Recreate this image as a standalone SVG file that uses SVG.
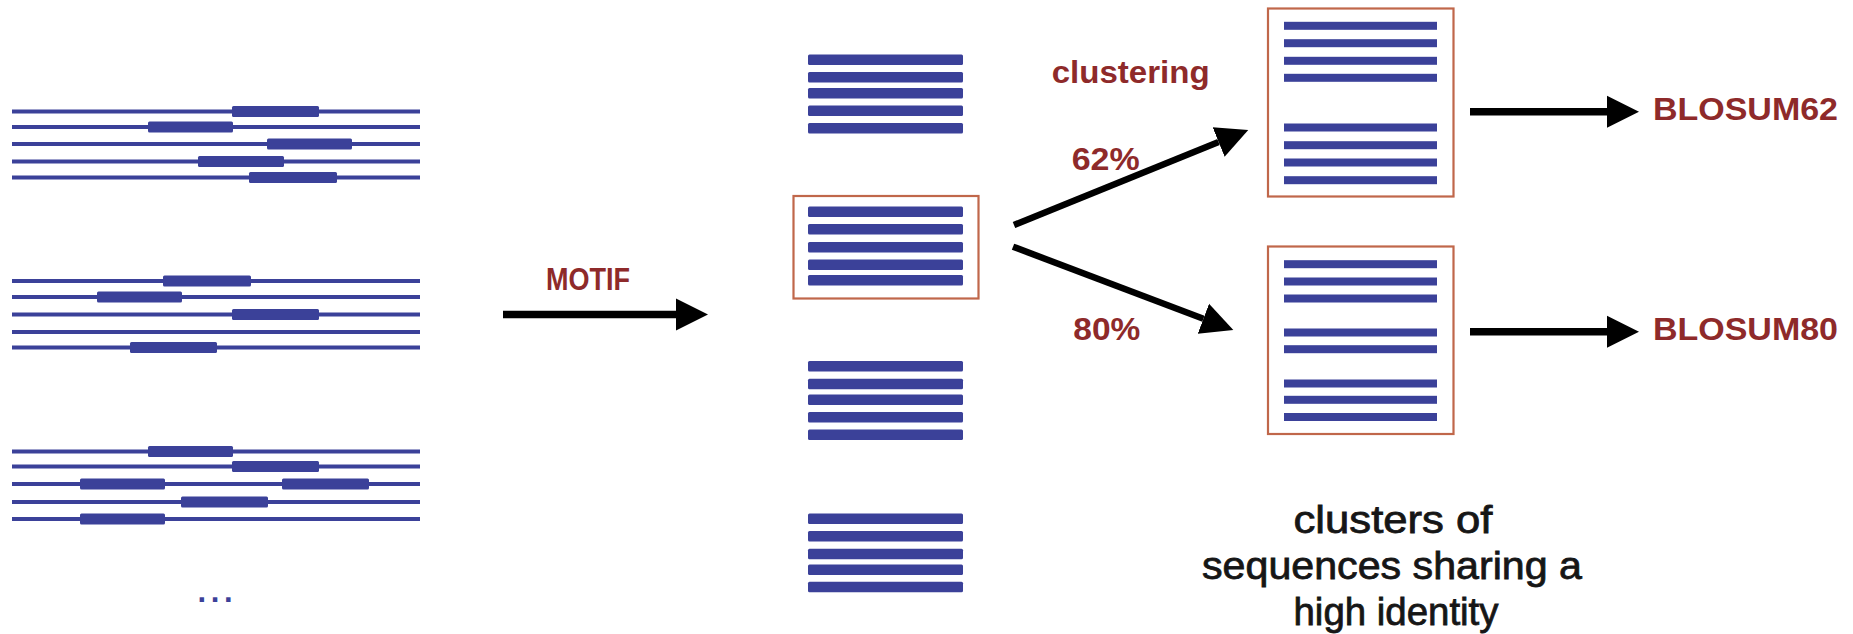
<svg xmlns="http://www.w3.org/2000/svg" width="1853" height="634" viewBox="0 0 1853 634">
  <style>
    .seq { stroke: #3b4199; stroke-width: 4; fill: none; }
    .motif { fill: #3b4199; }
    .blk { fill: #3b4199; }
    .frame { fill: none; stroke: #c0674a; stroke-width: 2.2; }
    .arrow { stroke: #000; fill: none; stroke-width: 7.5; marker-end: url(#head); }
    .diag { stroke-width: 6.5; }
    .lbl { font-family: "Liberation Sans", Arial, sans-serif; font-weight: bold; font-size: 31px; fill: #8e2a2a; }
    .cap { font-family: "Liberation Sans", Arial, sans-serif; font-size: 39px; fill: #161616; stroke: #161616; stroke-width: 0.8; text-anchor: middle; }
  </style>
  <defs>
    <marker id="head" markerUnits="userSpaceOnUse" markerWidth="34" markerHeight="34" refX="0" refY="16" orient="auto" viewBox="0 0 34 32">
      <path d="M0,0 L32,16 L0,32 z" fill="#000"/>
    </marker>
  </defs>

  <rect width="1853" height="634" fill="#fff"/>

  <!-- raw sequences with conserved motif segments -->
  <g id="sequences-1">
    <g class="seq">
      <line x1="12" y1="111.5" x2="420" y2="111.5"/>
      <line x1="12" y1="127" x2="420" y2="127"/>
      <line x1="12" y1="144" x2="420" y2="144"/>
      <line x1="12" y1="161.5" x2="420" y2="161.5"/>
      <line x1="12" y1="177.5" x2="420" y2="177.5"/>
    </g>
    <rect class="motif" x="232" y="106" width="87" height="11" rx="1.5"/>
    <rect class="motif" x="148" y="121.5" width="85" height="11" rx="1.5"/>
    <rect class="motif" x="267" y="138.5" width="85" height="11" rx="1.5"/>
    <rect class="motif" x="198" y="156" width="86" height="11" rx="1.5"/>
    <rect class="motif" x="249" y="172" width="88" height="11" rx="1.5"/>
  </g>
  <g id="sequences-2">
    <g class="seq">
      <line x1="12" y1="281" x2="420" y2="281"/>
      <line x1="12" y1="297" x2="420" y2="297"/>
      <line x1="12" y1="314.5" x2="420" y2="314.5"/>
      <line x1="12" y1="332" x2="420" y2="332"/>
      <line x1="12" y1="347.5" x2="420" y2="347.5"/>
    </g>
    <rect class="motif" x="163" y="275.5" width="88" height="11" rx="1.5"/>
    <rect class="motif" x="97" y="291.5" width="85" height="11" rx="1.5"/>
    <rect class="motif" x="232" y="309" width="87" height="11" rx="1.5"/>
    <rect class="motif" x="130" y="342" width="87" height="11" rx="1.5"/>
  </g>
  <g id="sequences-3">
    <g class="seq">
      <line x1="12" y1="451.5" x2="420" y2="451.5"/>
      <line x1="12" y1="466.5" x2="420" y2="466.5"/>
      <line x1="12" y1="484" x2="420" y2="484"/>
      <line x1="12" y1="502" x2="420" y2="502"/>
      <line x1="12" y1="519" x2="420" y2="519"/>
    </g>
    <rect class="motif" x="148" y="446" width="85" height="11" rx="1.5"/>
    <rect class="motif" x="232" y="461" width="87" height="11" rx="1.5"/>
    <rect class="motif" x="80" y="478.5" width="85" height="11" rx="1.5"/>
    <rect class="motif" x="282" y="478.5" width="87" height="11" rx="1.5"/>
    <rect class="motif" x="181" y="496.5" width="87" height="11" rx="1.5"/>
    <rect class="motif" x="80" y="513.5" width="85" height="11" rx="1.5"/>
  </g>
  <g id="ellipsis">
    <text font-family="'Liberation Sans', Arial, sans-serif" font-weight="bold" font-size="31" fill="#3b4199" x="197.5 210.8 224.1" y="602">...</text>
  </g>

  <!-- extracted motif blocks -->
  <g id="block-1">
    <rect class="blk" x="808" y="54.5" width="155" height="10.5" rx="1.5"/>
    <rect class="blk" x="808" y="72" width="155" height="10.5" rx="1.5"/>
    <rect class="blk" x="808" y="88" width="155" height="10.5" rx="1.5"/>
    <rect class="blk" x="808" y="105.5" width="155" height="10.5" rx="1.5"/>
    <rect class="blk" x="808" y="123" width="155" height="10.5" rx="1.5"/>
  </g>
  <g id="block-2">
    <rect class="frame" x="793.5" y="196" width="185" height="102.5"/>
    <rect class="blk" x="808" y="206.5" width="155" height="10.5" rx="1.5"/>
    <rect class="blk" x="808" y="224" width="155" height="10.5" rx="1.5"/>
    <rect class="blk" x="808" y="242" width="155" height="10.5" rx="1.5"/>
    <rect class="blk" x="808" y="259.5" width="155" height="10.5" rx="1.5"/>
    <rect class="blk" x="808" y="275" width="155" height="10.5" rx="1.5"/>
  </g>
  <g id="block-3">
    <rect class="blk" x="808" y="361" width="155" height="10.5" rx="1.5"/>
    <rect class="blk" x="808" y="378.7" width="155" height="10.5" rx="1.5"/>
    <rect class="blk" x="808" y="394.5" width="155" height="10.5" rx="1.5"/>
    <rect class="blk" x="808" y="412" width="155" height="10.5" rx="1.5"/>
    <rect class="blk" x="808" y="429.5" width="155" height="10.5" rx="1.5"/>
  </g>
  <g id="block-4">
    <rect class="blk" x="808" y="513.5" width="155" height="10.5" rx="1.5"/>
    <rect class="blk" x="808" y="531" width="155" height="10.5" rx="1.5"/>
    <rect class="blk" x="808" y="548.7" width="155" height="10.5" rx="1.5"/>
    <rect class="blk" x="808" y="564.5" width="155" height="10.5" rx="1.5"/>
    <rect class="blk" x="808" y="581.7" width="155" height="10.5" rx="1.5"/>
  </g>

  <!-- clusters at the two identity thresholds -->
  <g id="cluster-62">
    <rect class="frame" x="1268" y="8.5" width="185.5" height="188"/>
    <rect class="blk" x="1284" y="21.8" width="153" height="8"/>
    <rect class="blk" x="1284" y="39.2" width="153" height="8"/>
    <rect class="blk" x="1284" y="56.8" width="153" height="8"/>
    <rect class="blk" x="1284" y="73.8" width="153" height="8"/>
    <rect class="blk" x="1284" y="123.5" width="153" height="8"/>
    <rect class="blk" x="1284" y="141.2" width="153" height="8"/>
    <rect class="blk" x="1284" y="158.5" width="153" height="8"/>
    <rect class="blk" x="1284" y="176.2" width="153" height="8"/>
  </g>
  <g id="cluster-80">
    <rect class="frame" x="1268" y="246.5" width="185.5" height="187.5"/>
    <rect class="blk" x="1284" y="260.2" width="153" height="8"/>
    <rect class="blk" x="1284" y="277.5" width="153" height="8"/>
    <rect class="blk" x="1284" y="294.5" width="153" height="8"/>
    <rect class="blk" x="1284" y="328.5" width="153" height="8"/>
    <rect class="blk" x="1284" y="345.2" width="153" height="8"/>
    <rect class="blk" x="1284" y="379.5" width="153" height="8"/>
    <rect class="blk" x="1284" y="395.8" width="153" height="8"/>
    <rect class="blk" x="1284" y="413" width="153" height="8"/>
  </g>

  <!-- connectors -->
  <g id="connectors">
    <line class="arrow" x1="503" y1="314.5" x2="676" y2="314.5"/>
    <line class="arrow diag" x1="1014" y1="225" x2="1218.6" y2="142"/>
    <line class="arrow diag" x1="1013" y1="246.7" x2="1203.4" y2="318.7"/>
    <line class="arrow" x1="1470" y1="111.7" x2="1607" y2="111.7"/>
    <line class="arrow" x1="1470" y1="331.7" x2="1607" y2="331.7"/>
  </g>

  <!-- labels -->
  <g id="labels">
    <text class="lbl" x="546" y="290" textLength="84" lengthAdjust="spacingAndGlyphs">MOTIF</text>
    <text class="lbl" x="1051.7" y="83.3" textLength="158" lengthAdjust="spacingAndGlyphs">clustering</text>
    <text class="lbl" x="1071.7" y="170" textLength="68" lengthAdjust="spacingAndGlyphs">62%</text>
    <text class="lbl" x="1073.3" y="340" textLength="67" lengthAdjust="spacingAndGlyphs">80%</text>
    <text class="lbl" x="1653" y="120" textLength="185" lengthAdjust="spacingAndGlyphs">BLOSUM62</text>
    <text class="lbl" x="1653" y="340" textLength="185" lengthAdjust="spacingAndGlyphs">BLOSUM80</text>
  </g>
  <g id="caption">
    <text class="cap" x="1393" y="533" textLength="199" lengthAdjust="spacingAndGlyphs">clusters of</text>
    <text class="cap" x="1392" y="579" textLength="380" lengthAdjust="spacingAndGlyphs">sequences sharing a</text>
    <text class="cap" x="1396" y="625" textLength="205" lengthAdjust="spacingAndGlyphs">high identity</text>
  </g>
</svg>
